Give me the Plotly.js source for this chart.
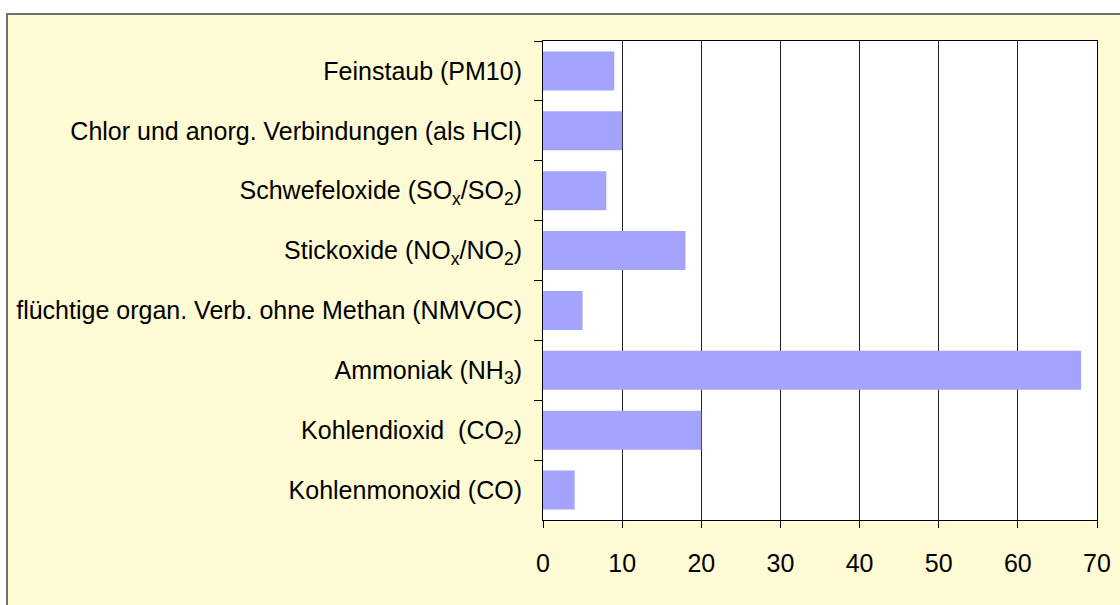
<!DOCTYPE html>
<html>
<head>
<meta charset="utf-8">
<script src="https://cdn.plot.ly/plotly-3.0.1.min.js"></script>
<style>
  html, body { margin: 0; padding: 0; background: #ffffff; overflow: hidden; }
  #frame {
    position: absolute; left: 6px; top: 13px;
    width: 1130px; height: 610px;
    border-left: 2px solid #707070; border-top: 2px solid #707070;
    background: #fffbd4;
  }
  #chart { position: absolute; left: 0; top: 0; }
</style>
</head>
<body>
<div id="frame"><div id="chart"></div></div>
<script>
// categories, top to bottom as in the picture
const categories = [
  'Feinstaub (PM10)',
  'Chlor und anorg. Verbindungen (als HCl)',
  'Schwefeloxide (SO<sub>x</sub>/SO<sub>2</sub>)',
  'Stickoxide (NO<sub>x</sub>/NO<sub>2</sub>)',
  'flüchtige organ. Verb. ohne Methan (NMVOC)',
  'Ammoniak (NH<sub>3</sub>)',
  'Kohlendioxid  (CO<sub>2</sub>)',
  'Kohlenmonoxid (CO)'
];
const values = [9, 10, 8, 18, 5, 68, 20, 4];
const xTicks = [0, 10, 20, 30, 40, 50, 60, 70];

const data = [{
  type: 'bar',
  orientation: 'h',
  y: categories,
  x: values,
  marker: { color: '#a4a4ff', line: { width: 0 } },
  hoverinfo: 'x+y'
}];

const layout = {
  width: 1120,
  height: 600,
  margin: { l: 535, r: 31, t: 26, b: 95 },
  paper_bgcolor: 'rgba(0,0,0,0)',
  plot_bgcolor: '#ffffff',
  font: { family: '"Liberation Sans", Arial, sans-serif', size: 25, color: '#000000' },
  showlegend: false,
  bargap: 0.35,
  xaxis: {
    range: [0, 70],
    tickvals: xTicks,
    ticktext: xTicks.map(String),
    ticks: 'outside',
    ticklen: 7,
    tickcolor: '#000000',
    ticklabelstandoff: 14,
    showgrid: true,
    gridcolor: '#222222',
    gridwidth: 1,
    showline: true,
    linecolor: '#000000',
    linewidth: 1,
    mirror: true,
    zeroline: false,
    fixedrange: true
  },
  yaxis: {
    type: 'category',
    categoryorder: 'array',
    categoryarray: categories,
    autorange: 'reversed',
    ticks: 'outside',
    tickson: 'boundaries',
    ticklen: 8,
    tickcolor: '#000000',
    ticklabelstandoff: 15,
    showgrid: false,
    showline: true,
    linecolor: '#000000',
    linewidth: 1,
    mirror: true,
    fixedrange: true
  }
};

Plotly.newPlot('chart', data, layout, { displayModeBar: false, staticPlot: true });
</script>
</body>
</html>
